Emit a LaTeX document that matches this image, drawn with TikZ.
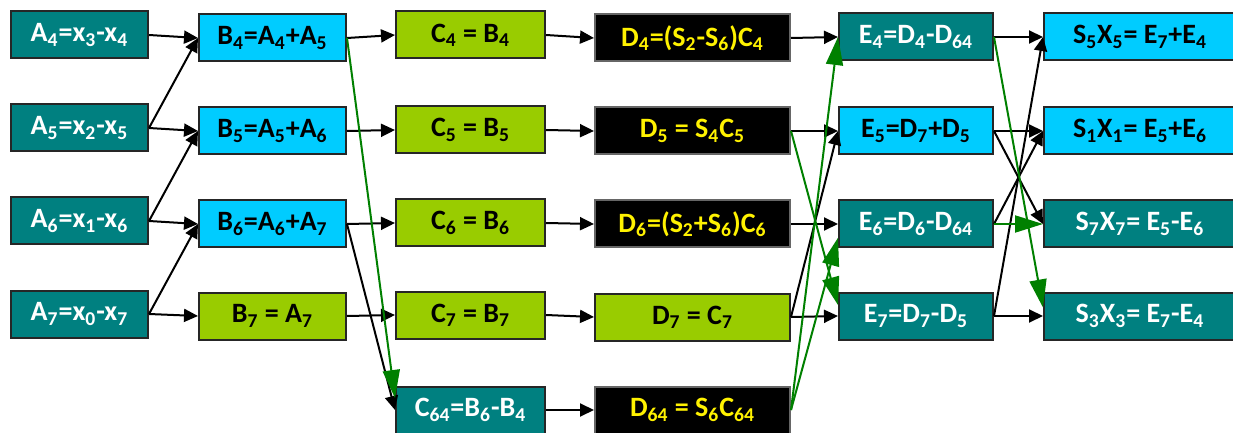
\documentclass[tikz,border=0pt]{standalone}
\usepackage{fontspec}
\setmainfont{Carlito}
\usepackage{tikz}
\usetikzlibrary{arrows.meta}
\usepackage{xcolor}

\definecolor{tealc}{HTML}{008080}
\definecolor{cyanc}{HTML}{00CCFF}
\definecolor{limec}{HTML}{99CC00}
\definecolor{arrgreen}{HTML}{008000}
\newcommand{\ix}[1]{\textsubscript{#1}}

\begin{document}
\begin{tikzpicture}[x=0.5pt, y=-0.5pt, font=\fontsize{14}{16}\selectfont\bfseries,
    box/.style={draw=black!85, line width=1pt, fill=#1, minimum height=23.5pt,
                inner sep=0pt, align=center},
    tl/.style={box=tealc, text=white},
    cy/.style={box=cyanc, text=black},
    lm/.style={box=limec, text=black},
    bk/.style={box=black, draw=black!60, text=yellow},
    blk/.style={-{Triangle[length=7pt,width=6.5pt]}, line width=1pt, black},
    grn/.style={-{Triangle[length=14pt,width=8.5pt]}, line width=1pt, arrgreen}]
  \useasboundingbox (0,0) rectangle (1233,433);
  \clip (0,0) rectangle (1233,433);
  %% Column A
  \node[tl, minimum width=68.5pt] (a4) at (79.5, 35) {A\ix{4}=x\ix{3}-x\ix{4}};
  \node[tl, minimum width=68.5pt] (a5) at (79.5,128) {A\ix{5}=x\ix{2}-x\ix{5}};
  \node[tl, minimum width=68.5pt] (a6) at (79.5,221) {A\ix{6}=x\ix{1}-x\ix{6}};
  \node[tl, minimum width=68.5pt] (a7) at (79.5,314) {A\ix{7}=x\ix{0}-x\ix{7}};
  %% Column B
  \node[cy, minimum width=73.5pt] (b4) at (272.5, 38) {B\ix{4}=A\ix{4}+A\ix{5}};
  \node[cy, minimum width=73.5pt] (b5) at (272.5,131) {B\ix{5}=A\ix{5}+A\ix{6}};
  \node[cy, minimum width=73.5pt] (b6) at (272.5,224) {B\ix{6}=A\ix{6}+A\ix{7}};
  \node[lm, minimum width=73.5pt] (b7) at (272.5,316) {B\ix{7} = A\ix{7}};
  %% Column C
  \node[lm, minimum width=74.5pt] (c4)  at (470.5, 35) {C\ix{4} = B\ix{4}};
  \node[lm, minimum width=74.5pt] (c5)  at (470.5,130) {C\ix{5} = B\ix{5}};
  \node[lm, minimum width=74.5pt] (c6)  at (470.5,223) {C\ix{6} = B\ix{6}};
  \node[lm, minimum width=74.5pt] (c7)  at (470.5,315) {C\ix{7} = B\ix{7}};
  \node[tl, minimum width=74.5pt] (c64) at (470.5,410) {C\ix{64}=B\ix{6}-B\ix{4}};
  %% Column D
  \node[bk, minimum width=97.5pt] (d4)  at (692.5, 38) {D\ix{4}=(S\ix{2}-S\ix{6})C\ix{4}};
  \node[bk, minimum width=97.5pt] (d5)  at (692.5,131) {D\ix{5} = S\ix{4}C\ix{5}};
  \node[bk, minimum width=97.5pt] (d6)  at (692.5,224) {D\ix{6}=(S\ix{2}+S\ix{6})C\ix{6}};
  \node[lm, minimum width=97.5pt] (d7)  at (692.5,317) {D\ix{7} = C\ix{7}};
  \node[bk, minimum width=97.5pt] (d64) at (692.5,410) {D\ix{64} = S\ix{6}C\ix{64}};
  %% Column E
  \node[tl, minimum width=77pt] (e4) at (916, 37) {E\ix{4}=D\ix{4}-D\ix{64}};
  \node[cy, minimum width=77pt] (e5) at (916,131) {E\ix{5}=D\ix{7}+D\ix{5}};
  \node[tl, minimum width=77pt] (e6) at (916,224) {E\ix{6}=D\ix{6}-D\ix{64}};
  \node[tl, minimum width=77pt] (e7) at (916,316) {E\ix{7}=D\ix{7}-D\ix{5}};
  %% Outputs
  \node[cy, minimum width=96pt] (s5) at (1140, 37) {S\ix{5}X\ix{5}= E\ix{7}+E\ix{4}};
  \node[cy, minimum width=96pt] (s1) at (1140,131) {S\ix{1}X\ix{1}= E\ix{5}+E\ix{6}};
  \node[tl, minimum width=96pt] (s7) at (1140,224) {S\ix{7}X\ix{7}= E\ix{5}-E\ix{6}};
  \node[tl, minimum width=96pt] (s3) at (1140,316) {S\ix{3}X\ix{3}= E\ix{7}-E\ix{4}};
  %% Black arrows
  \foreach \p/\q in {a4/b4,a5/b4,a5/b5,a6/b5,a6/b6,a7/b6,a7/b7,
                     b4/c4,b5/c5,b6/c6,b7/c7,b6/c64,
                     c4/d4,c5/d5,c6/d6,c7/d7,c64/d64,
                     d4/e4,d5/e5,d6/e6,d7/e7,d7/e5,
                     e4/s5,e5/s1,e5/s7,e6/s1,e7/s3,e7/s5}{
    \draw[blk] (\p.east) -- (\q.west);
  }
  %% Green arrows
  \draw[grn] (b4.east) -- (c64.171);
  \draw[grn] (d64.east) -- (e4.west);
  \draw[grn] (d64.east) -- (e6.190);
  \draw[grn] (d5.east) -- (e7.172);
  \draw[grn] (e4.east) -- (s3.175);
  \draw[grn] (e6.east) -- (s7.west);
\end{tikzpicture}
\end{document}
